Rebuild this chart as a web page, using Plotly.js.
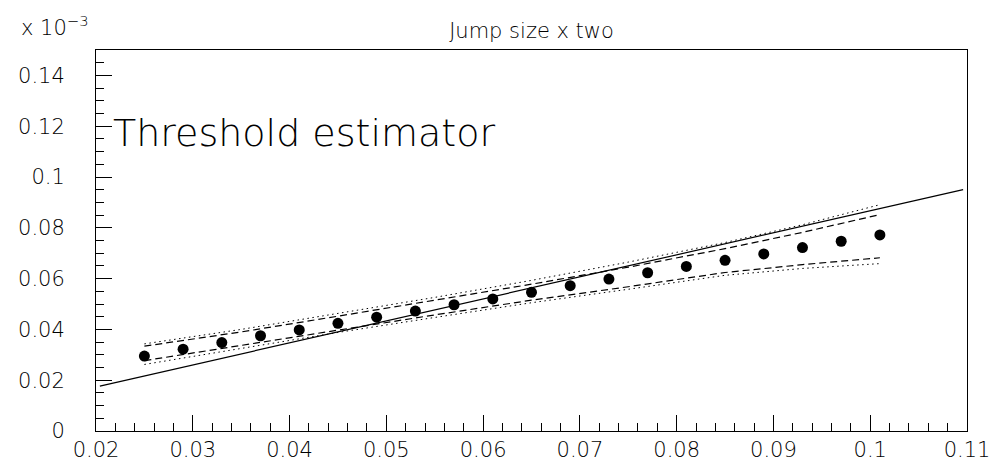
<!DOCTYPE html>
<html>
<head>
<meta charset="utf-8">
<script src="https://cdn.plot.ly/plotly-3.0.1.min.js"></script>
<style>html,body{margin:0;padding:0;background:#fff;}#chart{width:994px;height:465px;}</style>
</head>
<body>
<div id="chart"></div>
<script>
// Data (values in units of 1e-3)
const pointX = [0.025,0.029,0.033,0.037,0.041,0.045,0.049,0.053,0.057,0.061,0.065,0.069,0.073,0.077,0.081,0.085,0.089,0.093,0.097,0.101];
const pointY = [0.0295,0.0322,0.0348,0.0375,0.0398,0.0424,0.0448,0.0472,0.0497,0.0520,0.0546,0.0572,0.0598,0.0623,0.0648,0.0672,0.0697,0.0722,0.0747,0.0772];
const lineX = [0.0204,0.1096];
const lineY = [0.0177,0.0950];
const bandX = [0.025,0.035,0.045,0.055,0.065,0.075,0.085,0.093,0.101];
const upperDotted = [0.0343,0.0400,0.0463,0.0526,0.0593,0.0665,0.0742,0.0812,0.0891];
const upperDashed = [0.0334,0.0390,0.0452,0.0514,0.0578,0.0645,0.0718,0.0782,0.0852];
const lowerDashed = [0.0277,0.0338,0.0398,0.0457,0.0515,0.0568,0.0624,0.0655,0.0682];
const lowerDotted = [0.0262,0.0325,0.0388,0.0447,0.0505,0.0558,0.0613,0.0640,0.0659];
const titleText = 'Jump size x two';
const labelText = 'Threshold estimator';
const scaleText = 'x 10<sup>−3</sup>';

const FONT = 'DejaVu Sans, Liberation Sans, sans-serif';
const traces = [
  {x: lineX, y: lineY, mode: 'lines', line: {color: '#000', width: 1.2}, hoverinfo: 'skip'},
  {x: bandX, y: upperDotted, mode: 'lines', line: {color: '#000', width: 1, dash: '1.5px,3.5px'}},
  {x: bandX, y: upperDashed, mode: 'lines', line: {color: '#000', width: 1.2, dash: '7px,4px'}},
  {x: bandX, y: lowerDashed, mode: 'lines', line: {color: '#000', width: 1.2, dash: '7px,4px'}},
  {x: bandX, y: lowerDotted, mode: 'lines', line: {color: '#000', width: 1, dash: '1.5px,3.5px'}},
  {x: pointX, y: pointY, mode: 'markers', marker: {color: '#000', size: 11}}
];
const layout = {
  width: 994, height: 465,
  margin: {l: 96, r: 27, t: 50, b: 34},
  paper_bgcolor: '#fff', plot_bgcolor: '#fff',
  showlegend: false,
  font: {family: FONT, color: '#000', weight: 200},
  title: {text: titleText, font: {family: FONT, size: 21, color: '#000', weight: 200}, x: 0.5, xref: 'paper', y: 1 - 31/465, yref: 'container', yanchor: 'middle'},
  xaxis: {
    range: [0.02, 0.11], dtick: 0.01, tick0: 0.02,
    showgrid: false, zeroline: false,
    showline: true, linecolor: '#000', linewidth: 1, mirror: true,
    ticks: 'inside', ticklen: 16, tickwidth: 1, tickcolor: '#000',
    minor: {dtick: 0.002, ticks: 'inside', ticklen: 8, tickwidth: 1, tickcolor: '#000', showgrid: false},
    tickfont: {family: FONT, size: 21, color: '#000', weight: 200}
  },
  yaxis: {
    range: [0, 0.15], dtick: 0.02, tick0: 0,
    showgrid: false, zeroline: false,
    showline: true, linecolor: '#000', linewidth: 1, mirror: true,
    ticks: 'inside', ticklen: 16, tickwidth: 1, tickcolor: '#000',
    minor: {dtick: 0.005, ticks: 'inside', ticklen: 8, tickwidth: 1, tickcolor: '#000', showgrid: false},
    tickfont: {family: FONT, size: 21, color: '#000', weight: 200},
    ticklabelstandoff: 26
  },
  annotations: [
    {text: labelText, xref: 'x', yref: 'y', x: 0.0215, y: 0.1175, xanchor: 'left', yanchor: 'middle', showarrow: false,
     font: {family: FONT, size: 38, color: '#000', weight: 200}},
    {text: scaleText, xref: 'paper', yref: 'paper', x: -77/867, y: 1 + 8/381, xanchor: 'left', yanchor: 'bottom', showarrow: false,
     font: {family: FONT, size: 21, color: '#000', weight: 200}}
  ]
};
Plotly.newPlot('chart', traces, layout, {staticPlot: true, displayModeBar: false});
</script>
</body>
</html>
